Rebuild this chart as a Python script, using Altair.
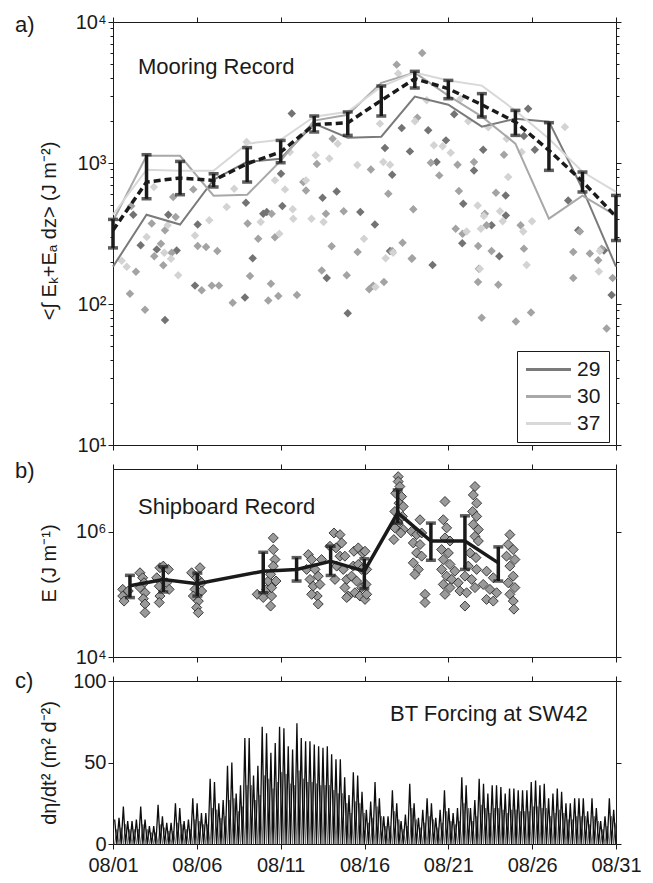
import altair as alt
import pandas as pd

FONT = "Liberation Sans"
INK = "#1a1a1a"
W = 503
HA, HB, HC = 423, 188, 163

# ---------------- panel a : mooring record ----------------
moorings = ["29", "30", "37"]
line_colors = ["#7a7a7a", "#a8a8a8", "#d8d8d8"]
pt_colors = ["#737373", "#a3a3a3", "#d3d3d3"]

curve_day = [1, 3, 5, 7, 9, 11, 13, 15, 17, 19, 21, 23, 25, 27, 29, 31]
curve_29 = [184, 430, 366, 761, 1020, 1072, 1902, 1511, 1535, 2955, 2592, 1810, 2063, 1964, 657, 184]
curve_30 = [388, 1126, 1126, 586, 595, 1038, 1998, 2200, 3700, 4376, 3003, 2131, 1371, 403, 586, 423]
curve_37 = [430, 896, 880, 880, 1371, 1463, 2131, 2312, 3480, 4376, 3843, 3538, 2351, 1487, 867, 625]
mean_a = [333, 733, 783, 753, 989, 1197, 1870, 1930, 2780, 3963, 3365, 2590, 1954, 1229, 741, 416]
lo_a = [250, 558, 596, 676, 733, 1005, 1660, 1570, 2155, 3404, 2858, 2121, 1570, 887, 623, 282]
hi_a = [398, 1145, 1026, 839, 1285, 1446, 2155, 2301, 3516, 4467, 3855, 3105, 2361, 1932, 863, 589]

p29_day = [11.66, 8.93, 9.96, 11.10, 11.02, 13.50, 14.34, 15.75, 13.75, 15.00, 2.21, 4.30, 2.65,
           3.61, 4.80, 4.10, 5.89, 6.05, 8.87, 9.33, 18.22, 19.80, 21.35, 25.76, 25.51, 26.16,
           23.08, 17.22, 18.71, 20.86, 20.30, 22.53, 17.65, 21.89, 24.42, 24.43, 23.58, 21.83,
           24.04, 16.62, 20.06, 28.15, 28.75, 17.52, 30.28, 30.74, 10.17]
p29_val = [2240, 523, 437, 495, 840, 567, 629, 450, 153, 86, 430, 430, 261,
           244, 240, 77, 135, 366, 111, 211, 1772, 1705, 2213, 2429, 1556, 1243,
           1243, 1277, 1209, 1447, 1016, 886, 825, 514, 589, 425, 362, 270,
           218, 366, 189, 542, 333, 238, 240, 116, 449]
p30_day = [5.79, 10.46, 13.16, 12.51, 14.10, 13.70, 14.76, 14.04, 15.59, 13.45, 14.94, 2.09,
           4.74, 3.31, 4.10, 3.86, 3.46, 4.50, 4.00, 2.37, 2.01, 2.91, 6.29, 6.89, 7.32, 6.05,
           6.55, 7.22, 8.14, 9.03, 9.66, 9.17, 10.66, 10.42, 10.86, 10.26, 11.97, 19.44, 17.92,
           19.15, 24.32, 19.96, 21.55, 22.53, 20.46, 16.38, 17.42, 18.91, 21.63, 23.18, 23.84,
           21.44, 22.78, 23.58, 25.31, 25.51, 22.77, 23.98, 18.27, 18.85, 17.65, 28.85, 28.45,
           29.44, 30.14, 29.94, 28.45, 30.80, 17.16, 16.52, 18.81, 16.28, 21.85, 23.28, 22.82,
           22.99, 25.03, 25.93, 30.44, 4.59, 12.35]
p30_val = [650, 437, 982, 639, 1487, 437, 454, 257, 234, 173, 160, 495,
           414, 372, 333, 268, 218, 231, 188, 169, 118, 91, 125, 135, 135, 258,
           254, 238, 102, 372, 290, 158, 298, 139, 114, 106, 116, 6035, 4985,
           2096, 1146, 1004, 971, 1016, 817, 901, 605, 469, 632, 437, 616,
           342, 258, 238, 362, 247, 143, 137, 272, 211, 238, 327, 234,
           228, 247, 204, 153, 153, 143, 135, 209, 127, 315, 362, 178,
           80, 75, 87, 67, 574, 733]
p37_day = [8.97, 3.44, 7.78, 8.23, 11.72, 11.26, 10.66, 11.55, 13.09, 13.90, 12.51, 14.40,
           15.57, 13.56, 15.97, 3.01, 4.06, 4.46, 4.89, 1.82, 1.52, 6.74, 5.89, 9.81, 10.92,
           18.01, 19.71, 19.01, 16.92, 21.73, 22.19, 27.95, 23.38, 24.48, 25.37, 20.14, 20.66,
           21.14, 17.12, 17.52, 24.57, 22.75, 24.08, 23.12, 22.94, 22.09, 25.47, 25.99, 25.67,
           22.88, 17.26, 30.04, 29.98, 16.66, 17.71, 24.24, 4.26, 12.84, 11.75]
p37_val = [1408, 675, 487, 657, 469, 650, 753, 1196, 1133, 1077, 753, 1371,
           968, 382, 290, 299, 231, 209, 160, 184, 203, 392, 306, 382, 315,
           4306, 2783, 1974, 1902, 2860, 1974, 1801, 1790, 1487, 1196, 1334, 1316,
           1183, 1016, 971, 795, 500, 454, 421, 342, 327, 327, 386, 189,
           178, 211, 238, 170, 132, 231, 386, 362, 403, 403]

# ---------------- panel b : shipboard record ----------------
b_day = [2.01, 4.00, 6.03, 9.96, 11.95, 13.98, 15.99, 17.98, 19.96, 21.99, 23.98]
b_mean_k = [137, 173, 148, 234, 250, 338, 234, 2000, 709, 709, 318]
b_lo_k = [88.7, 109, 94, 106, 163, 200, 123, 1370, 350, 250, 163]
b_hi_k = [201, 276, 218, 469, 385, 585, 369, 4640, 1370, 1790, 572]

b_pt_day = [1.58, 1.58, 1.66, 1.91, 2.61, 2.77, 2.85, 2.61, 2.91, 2.81, 2.91, 2.91,
            3.80, 4.00, 4.30, 3.76, 3.80, 3.76, 4.20, 4.35, 3.61,
            6.19, 5.69, 5.99, 6.29, 5.89, 6.29, 5.79, 6.09, 5.99, 6.09,
            9.60, 9.96, 10.16, 10.26, 10.40, 10.46, 10.56, 10.56, 10.66, 10.56, 10.40, 10.72, 10.46,
            12.65, 12.85, 12.55, 13.05, 12.75, 13.24, 12.94, 13.34, 13.18, 13.24, 12.85, 13.44,
            13.94, 14.18, 14.30, 14.54, 14.64, 14.54, 14.83, 14.34, 14.73, 14.94, 15.03, 14.83, 14.24,
            15.37, 15.63, 15.89, 16.03, 15.33, 15.63, 15.83, 16.13, 15.23, 15.53, 15.83, 16.09, 15.43,
            15.73, 16.03, 16.13, 14.94,
            18.01, 18.01, 18.11, 17.86, 18.21, 18.06, 18.31, 17.81, 18.26, 18.01, 17.81, 17.75, 18.31, 18.16,
            19.31, 18.81, 19.11, 19.41, 18.91, 19.31, 19.11, 19.41, 18.91, 19.21, 19.01, 19.61, 19.61,
            20.80, 20.70, 20.90, 20.80, 21.10, 20.60, 21.00, 20.70, 21.10, 20.60, 20.90, 21.20, 20.70,
            21.10, 20.80, 21.39,
            22.59, 22.49, 22.69, 22.45, 22.69, 22.49, 22.79, 22.59, 22.79, 22.29, 22.65, 22.19, 22.69,
            21.99, 22.39, 21.69, 22.09, 22.59, 21.99, 21.59,
            23.28, 23.68, 23.08, 23.48, 23.88, 23.28, 23.68, 24.67, 24.57, 24.87, 24.47, 24.97, 24.67,
            24.87, 24.57, 24.97, 24.67, 24.87, 24.91]
b_pt_k = [120, 94, 78, 113, 221, 184, 153, 128, 106, 85, 70, 51,
          266, 282, 250, 135, 94, 74, 153, 120, 184,
          266, 221, 184, 153, 120, 113, 94, 78, 61.5, 51,
          100, 89, 120, 163, 65, 94, 518, 794, 359, 282, 208, 163, 128,
          431, 359, 250, 250, 173, 195, 135, 144, 94, 70, 100, 359,
          585, 953, 551, 896, 661, 406, 406, 282, 250, 173, 94, 128, 173,
          487, 551, 458, 487, 282, 300, 250, 250, 195, 163, 128, 144, 106,
          94, 83, 100, 89,
          7550, 6300, 5250, 4100, 3630, 2850, 2520, 2100, 1750, 1370, 1150, 747, 1080, 953,
          1550, 1010, 896, 953, 661, 623, 458, 406, 318, 250, 208, 100, 74,
          3030, 1550, 1150, 794, 709, 518, 458, 359, 300, 250, 195, 173, 144,
          128, 100, 234,
          5250, 3860, 2850, 2100, 1750, 1300, 1080, 843, 709, 458, 385, 282, 250,
          195, 173, 113, 106, 128, 65, 153,
          234, 184, 144, 120, 106, 83, 78, 896, 623, 518, 406, 359, 282,
          195, 153, 128, 100, 78, 58]

# ---------------- panel c : BT forcing ----------------
c_start = 1.1        # first peak (Aug day)
c_step = 0.2588      # spacing between successive peaks (days)
black_peaks = [15, 16, 23, 14, 14, 15, 23, 15, 11, 11, 24, 17, 13, 13, 25, 22, 14, 15, 28, 25,
               19, 19, 40, 38, 25, 27, 48, 50, 31, 36, 65, 65, 42, 48, 72, 68, 56, 62, 72, 71,
               60, 58, 74, 65, 63, 63, 61, 60,
               59, 60, 55, 52, 52, 41, 30, 44, 42, 32, 21, 26, 38, 28, 17, 17, 33, 25, 14, 18,
               37, 25, 16, 21, 28, 25, 16, 21, 33, 22, 19, 22, 41, 36, 22, 27, 40, 37, 31, 36,
               36, 35, 31, 34, 34, 33, 33, 33, 38, 39, 36, 37, 28, 31, 34, 32, 25, 25, 28, 28,
               28, 20, 28, 22, 14, 17, 28, 21]
gray_peaks = [9, 10, 12, 9, 9, 9, 12, 9, 7, 7, 12, 10,
              8, 8, 13, 12, 9, 9, 15, 14, 12, 12, 22, 21,
              16, 17, 27, 28, 20, 23, 36, 36, 27, 30, 42, 40,
              34, 38, 44, 43, 37, 36, 45, 40, 38, 38, 37, 36,
              36, 36, 33, 31, 31, 25, 19, 26, 25, 19, 13, 16,
              23, 17, 11, 11, 20, 15, 9, 11, 22, 15, 10, 13,
              17, 15, 10, 13, 20, 14, 12, 14, 25, 22, 14, 17,
              24, 22, 19, 22, 22, 21, 19, 21, 21, 20, 20, 20,
              23, 23, 22, 22, 17, 19, 21, 19, 15, 15, 17, 17,
              17, 12, 17, 14, 9, 11, 17, 13]

# ---------------- tables ----------------
df_pts = pd.concat([
    pd.DataFrame({"day": p29_day, "val": p29_val, "src": "29"}),
    pd.DataFrame({"day": p30_day, "val": p30_val, "src": "30"}),
    pd.DataFrame({"day": p37_day, "val": p37_val, "src": "37"}),
], ignore_index=True)
df_curves = pd.concat([
    pd.DataFrame({"day": curve_day, "val": curve_29, "moor": "29"}),
    pd.DataFrame({"day": curve_day, "val": curve_30, "moor": "30"}),
    pd.DataFrame({"day": curve_day, "val": curve_37, "moor": "37"}),
], ignore_index=True)
df_mean = pd.DataFrame({"day": curve_day, "mean": mean_a, "lo": lo_a, "hi": hi_a})
df_caps = pd.concat([
    pd.DataFrame({"day": curve_day, "val": lo_a}),
    pd.DataFrame({"day": curve_day, "val": hi_a}),
], ignore_index=True)

df_bpts = pd.DataFrame({"day": b_pt_day, "val": [v * 1e3 for v in b_pt_k]})
df_bmean = pd.DataFrame({"day": b_day, "mean": [v * 1e3 for v in b_mean_k],
                         "lo": [v * 1e3 for v in b_lo_k], "hi": [v * 1e3 for v in b_hi_k]})
df_bcaps = pd.concat([
    pd.DataFrame({"day": b_day, "val": [v * 1e3 for v in b_lo_k]}),
    pd.DataFrame({"day": b_day, "val": [v * 1e3 for v in b_hi_k]}),
], ignore_index=True)

half = c_step / 2
black_rows, gray_rows = [], []
for i, (pk, gp) in enumerate(zip(black_peaks, gray_peaks)):
    t = c_start + i * c_step
    black_rows += [(t, pk, 2 * i), (t + half, 0, 2 * i + 1)]
    gray_rows += [(t, 0, 2 * i), (t + half, gp, 2 * i + 1)]
df_black = pd.DataFrame(black_rows, columns=["day", "val", "o"])
df_gray = pd.DataFrame(gray_rows, columns=["day", "val", "o"])

# ---------------- axes helpers ----------------
x_ticks = [1, 6, 11, 16, 21, 26, 31]
x_expr = "'08/' + (datum.value < 10 ? '0' : '') + datum.value"
xs = alt.Scale(domain=[1, 31], nice=False, zero=False)


def x_bottom(labels):
    return alt.Axis(orient="bottom", values=x_ticks, labels=labels, labelExpr=x_expr,
                    title=None, tickSize=5, labelFlush=False, labelOverlap=False,
                    labelPadding=6, grid=False)


def x_top():
    return alt.Axis(orient="top", values=x_ticks, labels=False, title=None,
                    tickSize=5, grid=False)


def tick_cond(majors):
    test = "indexof([" + ",".join(str(m) for m in majors) + "], datum.value) >= 0"
    return {"condition": {"test": test, "value": 5}, "value": 3}


def y_left(values, majors, expr, title, h):
    return alt.Axis(orient="left", values=values, labelExpr=expr, tickSize=tick_cond(majors),
                    labelPadding=2, labelOverlap=False, labelFlush=False, grid=False,
                    title=title, titleX=-64, titleY=h / 2, titleAngle=270,
                    titleBaseline="middle", titleAlign="center")


def y_right(values, majors):
    return alt.Axis(orient="right", values=values, labels=False, title=None,
                    tickSize=tick_cond(majors), grid=False)


def label_layer(text, x, y, size=22):
    return alt.Chart(pd.DataFrame({"t": [text]})).mark_text(
        align="left", baseline="alphabetic", fontSize=size, font=FONT, color=INK
    ).encode(x=alt.value(x), y=alt.value(y), text="t:N")


# ---------------- panel a ----------------
a_major = [10, 100, 1000, 10000]
a_vals = [m * k for m in [10, 100, 1000] for k in range(1, 10)] + [10000]
a_expr = ("datum.value == 10 ? '10¹' : datum.value == 100 ? '10²' : "
          "datum.value == 1000 ? '10³' : datum.value == 10000 ? '10⁴' : ''")
ysa = alt.Scale(type="log", domain=[10, 10000], nice=False)

legend_a = alt.Legend(title=None, orient="none", legendX=404, legendY=329,
                      symbolType="M-2.5,0H2.5", symbolSize=324, symbolStrokeWidth=3,
                      symbolOffset=13, labelOffset=18, labelFontSize=21, labelFont=FONT,
                      labelColor=INK, strokeColor=INK, fillColor="white", padding=8,
                      rowPadding=5)

a_pts = alt.Chart(df_pts).mark_point(shape="diamond", filled=True, size=72, opacity=1).encode(
    x=alt.X("day:Q", scale=xs, axis=x_bottom(False)),
    y=alt.Y("val:Q", scale=ysa, axis=y_left(a_vals, a_major, a_expr,
                                             "<∫ Eₖ+Eₐ dz> (J m⁻²)", HA - 6)),
    fill=alt.Fill("src:N", scale=alt.Scale(domain=moorings, range=pt_colors), legend=None),
)
a_lines = alt.Chart(df_curves).mark_line(strokeWidth=2).encode(
    x=alt.X("day:Q", scale=xs, axis=x_top()),
    y=alt.Y("val:Q", scale=ysa, axis=y_right(a_vals, a_major)),
    color=alt.Color("moor:N", scale=alt.Scale(domain=moorings, range=line_colors), legend=legend_a),
)
a_mean = alt.Chart(df_mean).mark_line(strokeDash=[7, 4], strokeWidth=3.5, color=INK).encode(
    x=alt.X("day:Q", scale=xs, axis=None),
    y=alt.Y("mean:Q", scale=ysa, axis=None),
)
a_bars = alt.Chart(df_mean).mark_rule(strokeWidth=3.5, color=INK).encode(
    x=alt.X("day:Q", scale=xs, axis=None),
    y=alt.Y("lo:Q", scale=ysa, axis=None),
    y2="hi:Q",
)
a_caps = alt.Chart(df_caps).mark_tick(orient="horizontal", size=10, thickness=3.5, color=INK).encode(
    x=alt.X("day:Q", scale=xs, axis=None),
    y=alt.Y("val:Q", scale=ysa, axis=None),
)
panel_a = alt.layer(
    a_pts, a_lines, a_mean, a_bars, a_caps,
    label_layer("Mooring Record", 25, 52),
    label_layer("a)", -98, 10),
).resolve_axis(x="independent", y="independent").resolve_legend(
    color="independent", fill="independent"
).properties(width=W, height=HA)

# ---------------- panel b ----------------
b_major = [10000, 1000000]
b_expr = "datum.value == 10000 ? '10⁴' : datum.value == 1000000 ? '10⁶' : ''"
ysb = alt.Scale(type="log", domain=[1e4, 1e7], nice=False)

b_pts = alt.Chart(df_bpts).mark_point(shape="diamond", filled=True, size=100, fill="#9a9a9a",
                                      stroke=INK, strokeWidth=0.8, opacity=1).encode(
    x=alt.X("day:Q", scale=xs, axis=x_bottom(False)),
    y=alt.Y("val:Q", scale=ysb, axis=y_left(b_major, b_major, b_expr, "E (J m⁻¹)", HB)),
)
b_line = alt.Chart(df_bmean).mark_line(strokeWidth=3.5, color=INK).encode(
    x=alt.X("day:Q", scale=xs, axis=x_top()),
    y=alt.Y("mean:Q", scale=ysb, axis=y_right(b_major, b_major)),
)
b_bars = alt.Chart(df_bmean).mark_rule(strokeWidth=3.5, color=INK).encode(
    x=alt.X("day:Q", scale=xs, axis=None),
    y=alt.Y("lo:Q", scale=ysb, axis=None),
    y2="hi:Q",
)
b_caps = alt.Chart(df_bcaps).mark_tick(orient="horizontal", size=10, thickness=3.5, color=INK).encode(
    x=alt.X("day:Q", scale=xs, axis=None),
    y=alt.Y("val:Q", scale=ysb, axis=None),
)
panel_b = alt.layer(
    b_pts, b_line, b_bars, b_caps,
    label_layer("Shipboard Record", 25, 45),
    label_layer("b)", -98, 9),
).resolve_axis(x="independent", y="independent").properties(width=W, height=HB)

# ---------------- panel c ----------------
ysc = alt.Scale(domain=[0, 100], nice=False)
c_vals = [0, 50, 100]
c_gray = alt.Chart(df_gray).mark_line(strokeWidth=1, color="#6e6e6e").encode(
    x=alt.X("day:Q", scale=xs, axis=x_bottom(True)),
    y=alt.Y("val:Q", scale=ysc, axis=y_left(c_vals, c_vals, "datum.value", "dη/dt² (m² d⁻²)", HC)),
    order="o:Q",
)
c_black = alt.Chart(df_black).mark_line(strokeWidth=1.3, color="#0d0d0d").encode(
    x=alt.X("day:Q", scale=xs, axis=x_top()),
    y=alt.Y("val:Q", scale=ysc, axis=y_right(c_vals, c_vals)),
    order="o:Q",
)
panel_c = alt.layer(
    c_gray, c_black,
    label_layer("BT Forcing at SW42", 277, 40),
    label_layer("c)", -98, 7),
).resolve_axis(x="independent", y="independent").properties(width=W, height=HC)

chart = alt.vconcat(panel_a, panel_b, panel_c, spacing=24, bounds="flush").properties(
    padding={"left": 15, "top": 12, "right": 5, "bottom": 5}
).configure(font=FONT).configure_view(stroke=None).configure_axis(
    domainColor=INK, tickColor=INK, labelColor=INK, titleColor=INK,
    labelFont=FONT, titleFont=FONT, labelFontSize=20, titleFontSize=20,
    titleFontWeight="normal", domainWidth=1, tickWidth=1,
)

chart.save("out.html", embed_options={"renderer": "svg", "actions": False})
